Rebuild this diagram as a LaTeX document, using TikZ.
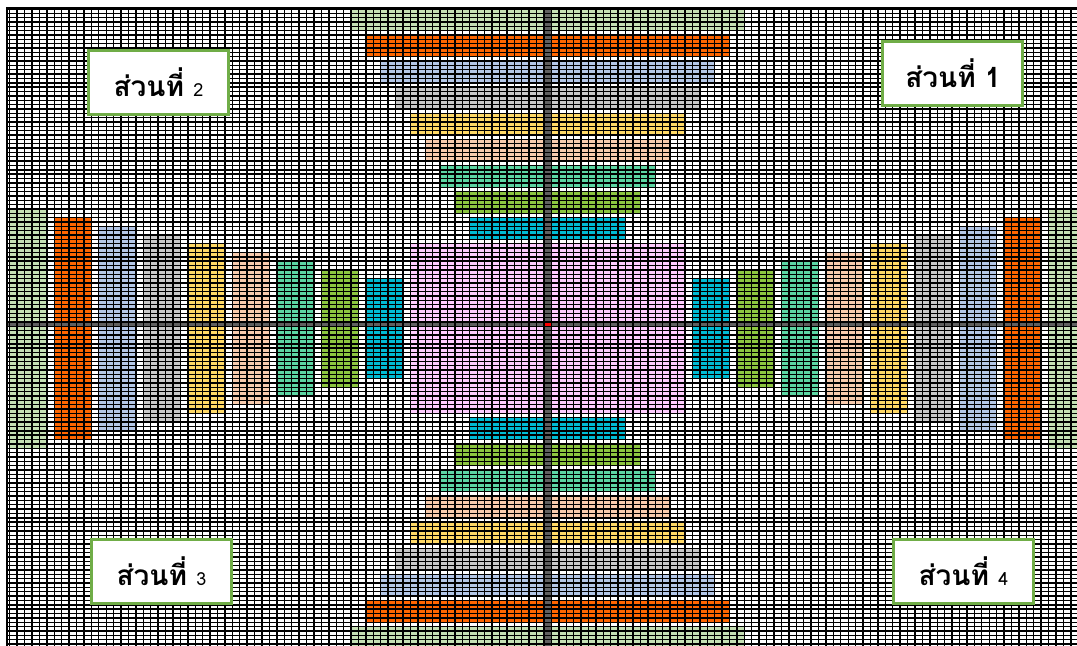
\documentclass[tikz,border=0pt]{standalone}
\usepackage{fontspec}
\usepackage{tikz}
\usetikzlibrary{positioning}
\newfontfamily\thaifont[Script=Thai]{Loma}

\definecolor{barlgreen}{HTML}{C5E0B4}
\definecolor{barorange}{HTML}{FF6600}
\definecolor{barblue}{HTML}{B4C7E7}
\definecolor{bargray}{HTML}{C9C9C9}
\definecolor{baryellow}{HTML}{FFD966}
\definecolor{barpeach}{HTML}{F8CBAD}
\definecolor{barteal}{HTML}{5CD6A3}
\definecolor{bargreen}{HTML}{8CC640}
\definecolor{barcyan}{HTML}{00BCD4}
\definecolor{barpink}{HTML}{FFCCFF}
\definecolor{axisgray}{HTML}{606060}
\definecolor{partgreen}{HTML}{70AD47}

\begin{document}
\begin{tikzpicture}[x=3.71pt, y=-2.175pt,
    cellline/.style={black, line width=0.7pt},
    part/.style={draw=partgreen, line width=1.5pt, fill=white,
        minimum width=70pt, minimum height=32pt,
        font=\thaifont\bfseries\fontsize{14}{16}\selectfont}]
    \useasboundingbox (-73.315,-8.046) rectangle (71.833,140.46);
    \fill[white] (-73.315,-8.046) rectangle (71.833,140.46);

    \begin{scope}
        \clip (-72.37,-6.2) rectangle (71.833,140.46);
        % bars, outer to inner
        \foreach \k/\col in {0/barlgreen,1/barorange,2/barblue,3/bargray,4/baryellow,
                             5/barpeach,6/barteal,7/bargreen,8/barcyan} {
            \fill[\col] (-26+2*\k,-6+6*\k) rectangle (27-2*\k,-1+6*\k);
            \fill[\col] (-26+2*\k,136-6*\k) rectangle (27-2*\k,141-6*\k);
            \fill[\col] (-72+6*\k,40+2*\k) rectangle (-67+6*\k,95-2*\k);
            \fill[\col] (68-6*\k,40+2*\k) rectangle (73-6*\k,95-2*\k);
        }
        \fill[barpink] (-18,48) rectangle (19,87);

        % axes and origin
        \fill[axisgray] (0,-7) rectangle (1,142);
        \fill[axisgray] (-74,66) rectangle (73,67);
        \fill[red] (0,66) rectangle (1,67);

        % cells
        \foreach \c in {-73,...,72}
            \draw[cellline] (\c,-7) -- (\c,142);
        \foreach \r in {-7,...,141}
            \draw[cellline] (-74,\r) -- (73,\r);
    \end{scope}
    \draw[cellline] (-72.37,140.46) -- (-72.37,-6.2) -- (71.833,-6.2);

    % parts
    \node[part] (part1) at (55.12,8.85) {ส่วนที่ 1};
    \node[part] (part2) at (-51.95,10.92) {ส่วนที่ {\mdseries\small 2}};
    \node[part] (part3) at (-51.55,123.33) {ส่วนที่ {\mdseries\small 3}};
    \node[part] (part4) at (56.54,123.33) {ส่วนที่ {\mdseries\small 4}};
\end{tikzpicture}
\end{document}
